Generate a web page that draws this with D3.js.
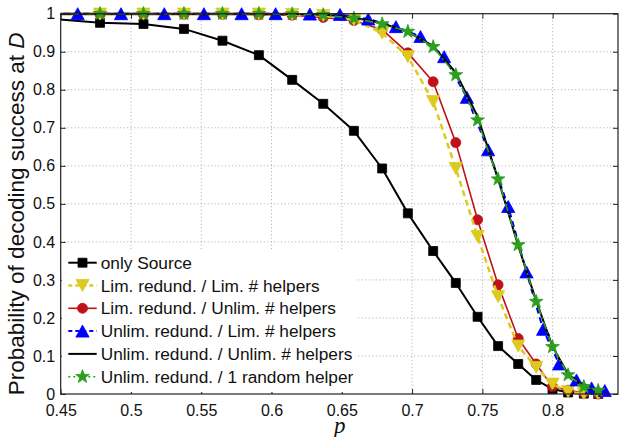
<!DOCTYPE html>
<html>
<head>
<meta charset="utf-8">
<script src="https://cdn.jsdelivr.net/npm/d3@7"></script>
<style>
  body { margin: 0; background: #fff; }
  svg { display: block; font-family: "Liberation Sans", Arial, sans-serif; }
</style>
</head>
<body>
<svg id="chart" width="623" height="437"></svg>
<script>
// Erasure probabilities p (shared grid for most curves)
const pGrid = [0.4463, 0.4780, 0.5089, 0.5377, 0.5651, 0.5910, 0.6147, 0.6368, 0.6586, 0.6787,
               0.6970, 0.7150, 0.7311, 0.7466, 0.7612, 0.7755, 0.7883, 0.7999, 0.8110, 0.8222, 0.8324];
// Grid used by the "Unlim. redund. / Lim. # helpers" curve
const pGridAlt = [0.4305, 0.4621, 0.4929, 0.5237, 0.5519, 0.5787, 0.6029, 0.6273, 0.6487, 0.6688, 0.6885,
                  0.7060, 0.7228, 0.7390, 0.7541, 0.7684, 0.7814, 0.7932, 0.8046, 0.8170, 0.8277, 0.8371];

const onlySource      = [0.986, 0.976, 0.973, 0.960, 0.929, 0.891, 0.826, 0.763, 0.692, 0.593,
                         0.475, 0.376, 0.292, 0.203, 0.126, 0.079, 0.037, 0.013, 0.004, 0.001, 0.000];
const limRedLimHelp   = [0.999, 0.999, 0.999, 0.999, 0.999, 0.999, 0.998, 0.995, 0.984, 0.949,
                         0.887, 0.769, 0.593, 0.414, 0.256, 0.126, 0.070, 0.026, 0.006, 0.001, 0.000];
const limRedUnlimHelp = [0.998, 0.998, 0.998, 0.998, 0.998, 0.997, 0.996, 0.990, 0.982, 0.958,
                         0.897, 0.821, 0.661, 0.458, 0.287, 0.146, 0.079, 0.019, 0.010, 0.003, 0.000];
const unlimRedLimHelp = [1.000, 1.000, 1.000, 1.000, 1.000, 1.000, 1.000, 0.999, 0.998, 0.986, 0.966,
                         0.940, 0.887, 0.780, 0.642, 0.493, 0.321, 0.170, 0.079, 0.037, 0.016, 0.009];
const unlimRedUnlimHelp = [1.000, 1.000, 1.000, 1.000, 1.000, 1.000, 0.999, 0.998, 0.990, 0.975,
                           0.952, 0.915, 0.845, 0.730, 0.565, 0.390, 0.245, 0.125, 0.052, 0.020, 0.008];
const unlimRedRandHelp  = [1.000, 1.000, 1.000, 1.000, 1.000, 1.000, 0.999, 0.997, 0.988, 0.973,
                           0.953, 0.913, 0.839, 0.720, 0.565, 0.392, 0.243, 0.124, 0.050, 0.019, 0.009];

const seriesLabels = [
  "only Source",
  "Lim. redund. / Lim. # helpers",
  "Lim. redund. / Unlim. # helpers",
  "Unlim. redund. / Lim. # helpers",
  "Unlim. redund. / Unlim. # helpers",
  "Unlim. redund. / 1 random helper"
];

const xTicks = [0.45, 0.5, 0.55, 0.6, 0.65, 0.7, 0.75, 0.8];
const xTickLabels = ["0.45", "0.5", "0.55", "0.6", "0.65", "0.7", "0.75", "0.8"];
const yTicks = [0, 0.1, 0.2, 0.3, 0.4, 0.5, 0.6, 0.7, 0.8, 0.9, 1];
const yTickLabels = ["0", "0.1", "0.2", "0.3", "0.4", "0.5", "0.6", "0.7", "0.8", "0.9", "1"];

// ---- layout ----
const svg = d3.select("#chart");
const plot = { left: 60.7, right: 618, top: 13.7, bottom: 394 };
const x = d3.scaleLinear().domain([0.45, 0.8465]).range([plot.left, plot.right]);
const y = d3.scaleLinear().domain([0, 1]).range([plot.bottom, plot.top]);

// ---- marker shapes ----
function triPath(s, down) {
  const w = s * 0.55, h = s * 0.5;
  return down ? `M${-w},${-h}L${w},${-h}L0,${h}Z` : `M0,${-h}L${w},${h}L${-w},${h}Z`;
}
function starPath(R) {
  const r = R * 0.40;
  let d = "";
  for (let i = 0; i < 10; i++) {
    const a = -Math.PI / 2 + i * Math.PI / 5;
    const rr = i % 2 === 0 ? R : r;
    d += (i === 0 ? "M" : "L") + (rr * Math.cos(a)).toFixed(2) + "," + (rr * Math.sin(a)).toFixed(2);
  }
  return d + "Z";
}
const markers = {
  square:  () => "M-4.5,-4.5H4.5V4.5H-4.5Z",
  triDown: () => triPath(12, true),
  circle:  () => "M5,0A5,5 0 1,1 -5,0A5,5 0 1,1 5,0Z",
  triUp:   () => triPath(12, false),
  star:    () => starPath(7.2),
  none:    null
};

const series = [
  { name: seriesLabels[0], xs: pGrid,    ys: onlySource,        color: "#000000", width: 2,   dash: null,        marker: "square",  order: 0 },
  { name: seriesLabels[1], xs: pGrid,    ys: limRedLimHelp,     color: "#DCCB1E", width: 2.5, dash: "6,4",       marker: "triDown", order: 2 },
  { name: seriesLabels[2], xs: pGrid,    ys: limRedUnlimHelp,   color: "#C0101A", width: 1.6, dash: null,        marker: "circle",  order: 1 },
  { name: seriesLabels[3], xs: pGridAlt, ys: unlimRedLimHelp,   color: "#0000FF", width: 2,   dash: "6,4",       marker: "triUp",   order: 3 },
  { name: seriesLabels[4], xs: pGrid,    ys: unlimRedUnlimHelp, color: "#000000", width: 2,   dash: null,        marker: "none",    order: 4 },
  { name: seriesLabels[5], xs: pGrid,    ys: unlimRedRandHelp,  color: "#2E9E1E", width: 1.6, dash: "8,3,1.5,3", marker: "star",    order: 5 }
];

// ---- grid ----
const grid = svg.append("g").attr("stroke", "#a8a8a8").attr("stroke-width", 1).attr("stroke-dasharray", "1,2.5");
grid.selectAll(".gx").data(xTicks.slice(1)).join("line")
  .attr("x1", d => x(d)).attr("x2", d => x(d)).attr("y1", plot.top).attr("y2", plot.bottom);
grid.selectAll(".gy").data(yTicks.slice(1, -1)).join("line")
  .attr("x1", plot.left).attr("x2", plot.right).attr("y1", d => y(d)).attr("y2", d => y(d));

// ---- data ----
svg.append("clipPath").attr("id", "plotClip").append("rect")
  .attr("x", plot.left).attr("y", plot.top - 8)
  .attr("width", plot.right - plot.left).attr("height", plot.bottom - plot.top + 16);

const dataG = svg.append("g").attr("clip-path", "url(#plotClip)");
const line = d3.line().x(d => x(d[0])).y(d => y(d[1]));

series.slice().sort((a, b) => a.order - b.order).forEach(s => {
  const pts = s.xs.map((p, i) => [p, s.ys[i]]);
  const g = dataG.append("g");
  g.append("path").attr("d", line(pts)).attr("fill", "none")
    .attr("stroke", s.color).attr("stroke-width", s.width)
    .attr("stroke-dasharray", s.dash).attr("stroke-linejoin", "round");
  if (markers[s.marker]) {
    g.selectAll("path.m").data(pts.filter(d => d[0] >= 0.45)).join("path")
      .attr("class", "m")
      .attr("transform", d => `translate(${x(d[0])},${y(d[1])})`)
      .attr("d", markers[s.marker]())
      .attr("fill", s.color).attr("stroke", s.color).attr("stroke-width", 0.8);
  }
});

// ---- axes ----
const fontTick = "16px";
const axB = svg.append("g").attr("transform", `translate(0,${plot.bottom})`)
  .call(d3.axisBottom(x).tickValues(xTicks).tickFormat((d, i) => xTickLabels[i])
    .tickSizeInner(-5).tickSizeOuter(0).tickPadding(10.5));
const axT = svg.append("g").attr("transform", `translate(0,${plot.top})`)
  .call(d3.axisTop(x).tickValues(xTicks).tickFormat("").tickSizeInner(-5).tickSizeOuter(0));
const axL = svg.append("g").attr("transform", `translate(${plot.left},0)`)
  .call(d3.axisLeft(y).tickValues(yTicks).tickFormat((d, i) => yTickLabels[i])
    .tickSizeInner(-5).tickSizeOuter(0).tickPadding(5.5));
const axR = svg.append("g").attr("transform", `translate(${plot.right},0)`)
  .call(d3.axisRight(y).tickValues(yTicks).tickFormat("").tickSizeInner(-5).tickSizeOuter(0));
[axB, axT, axL, axR].forEach(a => {
  a.select(".domain").remove();
  a.selectAll(".tick line").attr("stroke", "#222").attr("stroke-width", 1);
  a.selectAll("text").attr("fill", "#111").style("font-size", fontTick)
    .style("font-family", "'Liberation Sans', Arial, sans-serif");
});

// ---- legend (white panel, no border) ----
const leg = svg.append("g");
leg.append("rect").attr("x", plot.left + 1).attr("y", 250).attr("width", 294).attr("height", 142)
  .attr("fill", "#fff");
series.forEach((s, i) => {
  const yy = 262.7 + i * 22.8;
  const row = leg.append("g").attr("transform", `translate(0,${yy})`);
  row.append("line").attr("x1", 68.3).attr("x2", 96.7).attr("y1", 0).attr("y2", 0)
    .attr("stroke", s.color).attr("stroke-width", s.width)
    .attr("stroke-dasharray", s.dash ? (s.marker === "star" ? "2,3" : "4,3") : null);
  if (markers[s.marker]) {
    row.append("path").attr("transform", "translate(82.5,0)").attr("d", markers[s.marker]())
      .attr("fill", s.color).attr("stroke", s.color).attr("stroke-width", 0.8);
  }
  row.append("text").attr("x", 100.7).attr("y", 0).attr("dy", "0.35em")
    .attr("fill", "#111").style("font-size", "17.3px").text(s.name);
});

// frame
svg.append("rect").attr("x", plot.left).attr("y", plot.top)
  .attr("width", plot.right - plot.left).attr("height", plot.bottom - plot.top)
  .attr("fill", "none").attr("stroke", "#222").attr("stroke-width", 1.2);

// ---- axis titles ----
const yTitle = svg.append("text")
  .attr("transform", `translate(24,${(plot.top + plot.bottom) / 2 + 10}) rotate(-90)`)
  .attr("text-anchor", "middle").attr("fill", "#111")
  .style("font-size", "22.5px");
yTitle.append("tspan").text("Probability of decoding success at ");
yTitle.append("tspan").attr("font-style", "italic").text("D");

svg.append("text").attr("x", (plot.left + plot.right) / 2 + 0.5).attr("y", 433)
  .attr("text-anchor", "middle").attr("fill", "#111")
  .style("font-family", "'Liberation Serif', 'DejaVu Serif', serif")
  .style("font-style", "italic").style("font-size", "23px")
  .text("p");
</script>
</body>
</html>
